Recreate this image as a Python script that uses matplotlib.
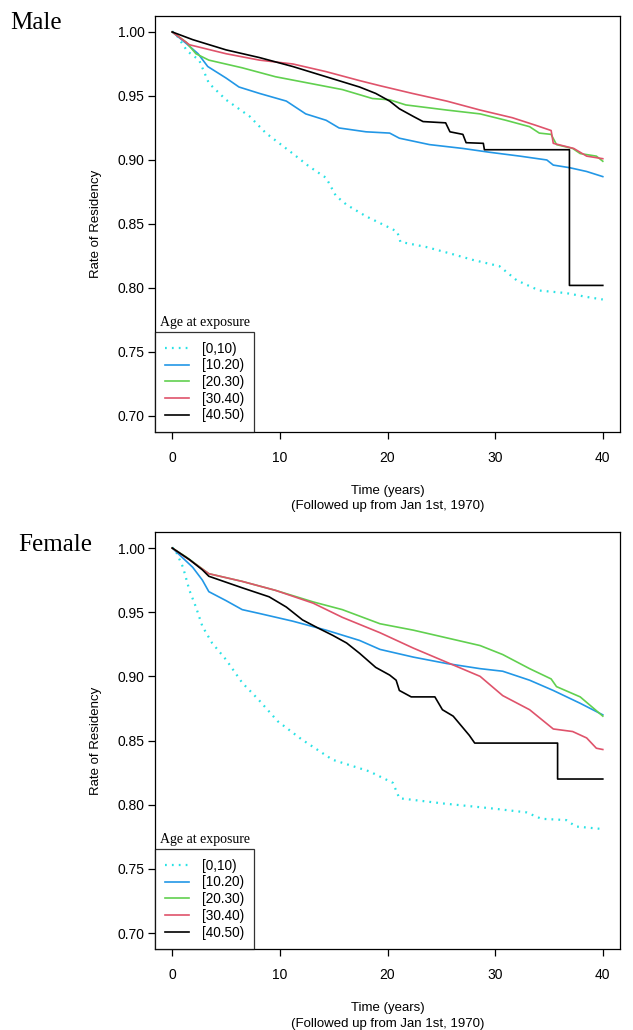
#
# Rate of residency by age at exposure, male and female panels
#
import numpy as np
import matplotlib
matplotlib.use('Agg')
import matplotlib.pyplot as plt
#
# Data: time in years and rate of residency
#
groups=['[0,10)','[10.20)','[20.30)','[30.40)','[40.50)']
colors=['#28E2E5','#2297E6','#61D04F','#DF536B','black']

male_t_0_10=[0,0.2,1.4,2.5,3.4,5.0,7.2,8.7,11.2,12.7,14.3,15.2,16.2,18.0,20.2,20.9,21.2,23.6,25.8,27.9,30.4,32.0,34.1,36.6,38.5,40]
male_s_0_10=[1.0,1.0,0.985,0.978,0.960,0.947,0.934,0.921,0.905,0.895,0.886,0.872,0.865,0.856,0.847,0.844,0.836,0.832,0.827,0.822,0.817,0.806,0.798,0.796,0.793,0.791]
male_t_10_20=[0,1.3,2.4,3.3,5.0,6.2,8.1,10.6,12.4,14.3,15.5,18.0,20.2,21.1,23.9,27.0,29.5,32.3,34.8,35.4,36.9,38.5,40]
male_s_10_20=[1.0,0.991,0.983,0.973,0.964,0.957,0.952,0.946,0.936,0.931,0.925,0.922,0.921,0.917,0.912,0.909,0.906,0.903,0.900,0.896,0.894,0.891,0.887]
male_t_20_30=[0,1.3,2.2,3.4,6.5,9.6,12.7,15.8,18.6,20.2,21.7,25.5,28.6,31.0,33.2,34.1,35.2,35.7,37.2,37.9,39.4,40]
male_s_20_30=[1.0,0.992,0.983,0.978,0.972,0.965,0.960,0.955,0.948,0.947,0.943,0.939,0.936,0.931,0.926,0.921,0.920,0.912,0.909,0.905,0.903,0.899]
male_t_30_40=[0,1.6,5.0,8.1,11.2,14.3,17.4,19.3,22.3,25.5,28.6,31.6,33.8,35.2,35.4,37.3,38.5,40]
male_s_30_40=[1.0,0.990,0.983,0.978,0.975,0.969,0.962,0.958,0.952,0.946,0.939,0.933,0.927,0.923,0.913,0.909,0.903,0.901]
male_t_40_50=[0,1.9,5.0,8.1,11.2,14.3,17.4,18.9,20.2,21.1,22.4,23.3,25.4,25.8,27.0,27.3,28.9,29.0,36.9,36.9,40]
male_s_40_50=[1.0,0.994,0.986,0.980,0.973,0.965,0.957,0.952,0.946,0.940,0.934,0.930,0.929,0.922,0.920,0.9135,0.913,0.908,0.908,0.802,0.802]

female_t_0_10=[0,0.2,1.0,1.6,2.2,2.8,3.7,5.0,6.5,8.0,9.8,12.0,14.9,18.3,20.5,21.1,25.1,29.8,32.9,34.3,36.6,37.5,40]
female_s_0_10=[1.0,1.0,0.985,0.967,0.954,0.939,0.926,0.913,0.895,0.882,0.865,0.851,0.835,0.826,0.817,0.805,0.801,0.797,0.794,0.789,0.788,0.783,0.781]
female_t_10_20=[0,1.9,2.8,3.4,5.0,6.5,8.1,11.2,14.3,17.4,19.3,22.4,25.5,28.6,30.7,33.2,35.4,37.9,40]
female_s_10_20=[1.0,0.985,0.975,0.966,0.959,0.952,0.949,0.943,0.936,0.928,0.921,0.915,0.910,0.906,0.904,0.897,0.889,0.879,0.870]
female_t_20_30=[0,1.3,3.4,6.5,9.6,13.1,15.8,19.3,22.4,25.5,28.6,30.7,33.2,35.2,35.7,37.9,40]
female_s_20_30=[1.0,0.993,0.980,0.974,0.967,0.958,0.952,0.941,0.936,0.930,0.924,0.917,0.906,0.898,0.892,0.884,0.869]
female_t_30_40=[0,1.9,3.4,6.5,9.6,13.1,15.8,19.3,22.4,25.5,28.6,30.7,33.2,35.4,37.2,38.5,39.4,40]
female_s_30_40=[1.0,0.989,0.980,0.974,0.967,0.957,0.946,0.934,0.922,0.911,0.900,0.885,0.874,0.859,0.857,0.852,0.844,0.843]
female_t_40_50=[0,1.6,2.8,3.4,6.5,9.0,10.6,12.1,13.7,14.9,16.2,17.4,18.9,20.2,20.8,21.1,22.2,24.4,25.1,26.1,26.9,27.6,28.1,35.8,35.8,40]
female_s_40_50=[1.0,0.991,0.983,0.978,0.969,0.962,0.954,0.944,0.937,0.932,0.926,0.918,0.907,0.901,0.897,0.889,0.884,0.884,0.874,0.869,0.861,0.854,0.848,0.848,0.820,0.820]

male_t=[male_t_0_10,male_t_10_20,male_t_20_30,male_t_30_40,male_t_40_50]
male_s=[male_s_0_10,male_s_10_20,male_s_20_30,male_s_30_40,male_s_40_50]
female_t=[female_t_0_10,female_t_10_20,female_t_20_30,female_t_30_40,female_t_40_50]
female_s=[female_s_0_10,female_s_10_20,female_s_20_30,female_s_30_40,female_s_40_50]

xticks=[0,10,20,30,40]
yticks=[0.70,0.75,0.80,0.85,0.90,0.95,1.00]
#
# Figure setup
#
plt.rcParams['font.family']=['Liberation Sans','DejaVu Sans']
fig=plt.figure(figsize=(6.33,10.30),dpi=100)

def panel(rect,times,rates,name,name_xy):
    ax=fig.add_axes(rect)
    for i in range(len(groups)):
        if i==0:
            ax.plot(times[i],rates[i],color=colors[i],lw=1.6,linestyle=(0,(0.8,2.3)),label=groups[i])
        else:
            ax.plot(times[i],rates[i],color=colors[i],lw=1.2,label=groups[i])
    ax.set_xlim(-1.6,41.6)
    ax.set_ylim(0.6875,1.0125)
    ax.set_xticks(xticks)
    ax.set_yticks(yticks)
    ax.set_yticklabels(['%.2f'%y for y in yticks])
    ax.tick_params(direction='out',length=5,width=0.9,labelsize=10,color='black')
    ax.tick_params(axis='x',pad=9)
    ax.tick_params(axis='y',pad=2.5)
    for sp in ax.spines.values():
        sp.set_linewidth(0.9)
        sp.set_color('black')
    ax.set_ylabel('Rate of Residency',fontsize=9.5)
    ax.yaxis.set_label_coords(-0.115,0.5)
    ax.set_xlabel('Time (years)\n(Followed up from Jan 1st, 1970)',fontsize=9.5,linespacing=1.35)
    ax.xaxis.set_label_coords(0.5,-0.128)
    leg=ax.legend(loc='lower left',frameon=True,fancybox=False,fontsize=9.8,
                  borderaxespad=0,borderpad=0.7,labelspacing=0.2,handlelength=1.8,
                  handletextpad=0.95)
    leg.get_frame().set_edgecolor('black')
    leg.get_frame().set_linewidth(0.9)
    ax.text(0.01,0.262,'Age at exposure',transform=ax.transAxes,fontsize=10,
            family='Liberation Serif',va='center',ha='left')
    fig.text(name_xy[0],name_xy[1],name,fontsize=18,family='Liberation Serif',
             va='baseline',ha='left')
    return ax

panel([0.2449,0.5806,0.7346,0.4039],male_t,male_s,'Male',(0.016,1-29/1030))
panel([0.2449,0.0786,0.7346,0.4049],female_t,female_s,'Female',(0.028,1-551/1030))

plt.savefig('out.png',dpi=100)
